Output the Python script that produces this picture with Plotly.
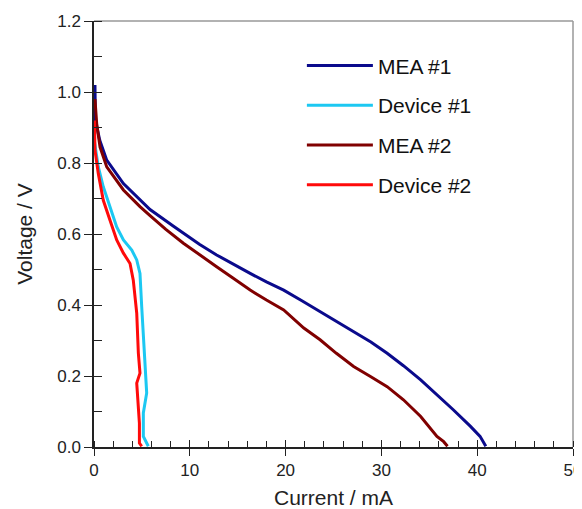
import plotly.graph_objects as go

# MEA #1
mea1_i = [0.1, 0.15, 0.6, 1.33, 3.07, 4.8, 5.85, 8.3, 9.33, 11.0, 12.8, 14.5, 16.3, 18.0, 19.8, 21.7, 23.6, 25.3, 27.1, 28.9, 30.6, 32.3, 34.1, 35.8, 37.5, 39.3, 40.3, 40.9]
mea1_v = [1.02, 0.92, 0.864, 0.808, 0.742, 0.695, 0.669, 0.622, 0.602, 0.571, 0.541, 0.515, 0.489, 0.465, 0.442, 0.412, 0.381, 0.353, 0.325, 0.296, 0.264, 0.229, 0.189, 0.148, 0.105, 0.058, 0.03, 0.002]
# Device #1
dev1_i = [0.05, 0.45, 0.97, 1.67, 2.37, 3.07, 3.94, 4.46, 4.8, 4.98, 5.15, 5.33, 5.5, 5.15, 5.15, 5.67]
dev1_v = [0.86, 0.789, 0.733, 0.677, 0.62, 0.583, 0.555, 0.527, 0.489, 0.395, 0.302, 0.208, 0.152, 0.096, 0.03, 0.002]
# MEA #2
mea2_i = [0.1, 0.28, 0.63, 1.33, 3.07, 4.8, 5.85, 7.5, 9.33, 11.0, 12.8, 14.5, 16.3, 18.0, 19.8, 21.9, 23.6, 25.3, 27.1, 28.9, 30.6, 32.3, 34.1, 35.8, 36.5, 36.9]
mea2_v = [0.98, 0.911, 0.845, 0.789, 0.724, 0.677, 0.652, 0.613, 0.574, 0.541, 0.508, 0.476, 0.442, 0.414, 0.386, 0.335, 0.302, 0.264, 0.227, 0.198, 0.17, 0.133, 0.086, 0.03, 0.015, 0.002]
# Device #2
dev2_i = [0.05, 0.1, 0.45, 0.97, 1.67, 2.37, 3.07, 3.76, 4.1, 4.46, 4.63, 4.8, 4.46, 4.63, 4.74, 4.74, 4.98]
dev2_v = [0.92, 0.836, 0.77, 0.695, 0.639, 0.583, 0.546, 0.517, 0.47, 0.377, 0.264, 0.208, 0.18, 0.124, 0.067, 0.011, 0.002]

x_ticks = [0, 10, 20, 30, 40, 50]
y_ticks = [0, 0.2, 0.4, 0.6, 0.8, 1.0, 1.2]

series = [
    ("MEA #1", mea1_i, mea1_v, "#0A0A8C"),
    ("Device #1", dev1_i, dev1_v, "#1CC8F2"),
    ("MEA #2", mea2_i, mea2_v, "#800000"),
    ("Device #2", dev2_i, dev2_v, "#FF0A0A"),
]

fig = go.Figure()
# helper trace for overlay axes (inner half of crossing major ticks)
fig.add_trace(go.Scatter(x=[None], y=[None], xaxis="x2", yaxis="y2",
                         showlegend=False, hoverinfo="skip"))
for k, (name, xs, ys, col) in enumerate(series):
    fig.add_trace(go.Scatter(x=xs, y=ys, mode="lines", name=name,
                             legendgroup=str(k),
                             line=dict(color=col, width=3)))

font = "Liberation Sans, Arial, sans-serif"
axc = "#222"
fig.update_layout(
    width=574, height=501,
    margin=dict(l=86, r=9, t=13, b=62),
    paper_bgcolor="white", plot_bgcolor="white",
    font=dict(family=font, size=17, color="#222"),
    showlegend=True,
    legend=dict(x=0.434, y=0.943, xanchor="left", yanchor="top",
                font=dict(size=21, color="#111"),
                tracegroupgap=9.5, itemwidth=66,
                bgcolor="rgba(0,0,0,0)"),
    xaxis=dict(range=[0, 50], tickvals=x_ticks, automargin=False,
               ticklabeloverflow="allow",
               showgrid=False, zeroline=False,
               showline=True, linecolor=axc, linewidth=1.5,
               ticks="outside", ticklen=7, tickwidth=1.3, tickcolor=axc,
               minor=dict(dtick=2, ticks="inside", ticklen=6, tickwidth=1, tickcolor=axc),
               title=dict(text="Current / mA", font=dict(size=21), standoff=16)),
    yaxis=dict(range=[0, 1.2], tickvals=y_ticks, tickformat=".1f", automargin=False,
               ticklabeloverflow="allow",
               showgrid=False, zeroline=False,
               showline=True, linecolor=axc, linewidth=1.5,
               ticks="outside", ticklen=8, tickwidth=1.3, tickcolor=axc,
               minor=dict(dtick=0.1, ticks="inside", ticklen=8, tickwidth=1, tickcolor=axc),
               title=dict(text="Voltage / V", font=dict(size=21), standoff=19)),
    xaxis2=dict(range=[0, 50], tickvals=x_ticks, overlaying="x", side="bottom",
                showgrid=False, zeroline=False, showline=False, showticklabels=False,
                ticks="inside", ticklen=7, tickwidth=1.3, tickcolor=axc, automargin=False),
    yaxis2=dict(range=[0, 1.2], tickvals=y_ticks, overlaying="y", side="left",
                showgrid=False, zeroline=False, showline=False, showticklabels=False,
                ticks="inside", ticklen=8, tickwidth=1.3, tickcolor=axc, automargin=False),
)
fig.add_shape(type="line", xref="paper", yref="paper", x0=1, x1=1, y0=0, y1=1,
              line=dict(color="#999", width=1.5), layer="below")
fig.add_shape(type="line", xref="paper", yref="paper", x0=0, x1=1, y0=1, y1=1,
              line=dict(color="#999", width=1.5), layer="below")
fig.write_html("out.html")
